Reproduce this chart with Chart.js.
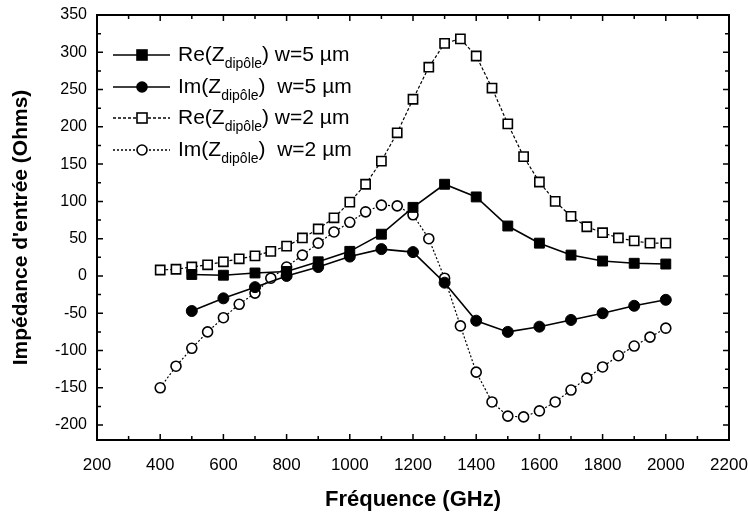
<!DOCTYPE html>
<html>
<head>
<meta charset="utf-8">
<script src="https://cdn.jsdelivr.net/npm/chart.js@4.4.1/dist/chart.umd.min.js"></script>
<style>
  html, body { margin: 0; padding: 0; background: #fff; }
  #wrap { position: relative; width: 748px; height: 517px; }
  #c { position: absolute; left: 0; top: 0; }
  .lg { position: absolute; left: 110px; height: 30px; font-family: "Liberation Sans", Arial, sans-serif; font-size: 21px; color: #000; white-space: nowrap; }
  .lg svg { position: absolute; left: 0; top: 0; }
  .lg .t { position: absolute; left: 68px; top: 2px; }
  .lg sub { font-size: 14px; vertical-align: -7px; line-height: 0; }
</style>
</head>
<body>
<div id="wrap">
  <canvas id="c" width="748" height="517"></canvas>
</div>
<script>
// ---- data ----
const freqW2 = [400,450,500,550,600,650,700,750,800,850,900,950,1000,1050,1100,1150,1200,1250,1300,1350,1400,1450,1500,1550,1600,1650,1700,1750,1800,1850,1900,1950,2000];
const freqW5 = [500,600,700,800,900,1000,1100,1200,1300,1400,1500,1600,1700,1800,1900,2000];
const reW5 = [2, 1, 4, 6, 19, 33, 56, 92, 123, 106, 67, 44, 28, 20, 17, 16];
const imW5 = [-47, -30, -15, 0, 12, 26, 36, 32, -9, -60, -75, -68, -59, -50, -40, -32];
const reW2 = [8, 9, 12, 15, 19, 23, 27, 33, 40, 51, 63, 78, 99, 123, 154, 192, 237, 280, 312, 318, 295, 252, 204, 160, 126, 100, 80, 66, 58, 51, 47, 44, 44];
const imW2 = [-150, -121, -97, -75, -56, -38, -23, -3, 12, 28, 44, 59, 72, 86, 95, 94, 82, 50, -3, -67, -129, -169, -188, -189, -181, -169, -153, -137, -122, -107, -94, -82, -70];
const xTickLabels = [200,400,600,800,1000,1200,1400,1600,1800,2000,2200];
const yTickLabels = [-200,-150,-100,-50,0,50,100,150,200,250,300,350];
const seriesNames = ["Re(Z_dipôle) w=5 µm", "Im(Z_dipôle)  w=5 µm", "Re(Z_dipôle) w=2 µm", "Im(Z_dipôle)  w=2 µm"];

function pts(xs, ys) { return xs.map((x, i) => ({x: x, y: ys[i]})); }

const FONT = '"Liberation Sans", Arial, sans-serif';

const frameTicks = {
  id: 'frameTicks',
  afterDraw(chart) {
    const ctx = chart.ctx, a = chart.chartArea;
    const xs = chart.scales.x, ys = chart.scales.y;
    ctx.save();
    ctx.strokeStyle = '#000';
    ctx.lineWidth = 1.5;
    for (let v = xs.min; v <= xs.max; v += 100) {
      const px = xs.getPixelForValue(v);
      const major = (v % 200) === 0;
      const L = major ? 6 : 4;
      ctx.beginPath();
      ctx.moveTo(px, a.bottom); ctx.lineTo(px, a.bottom - L);
      ctx.moveTo(px, a.top); ctx.lineTo(px, a.top + L);
      ctx.stroke();
    }
    for (let v = -200; v <= ys.max; v += 25) {
      const py = ys.getPixelForValue(v);
      const major = (v % 50) === 0;
      const L = major ? 6 : 4;
      ctx.beginPath();
      ctx.moveTo(a.left, py); ctx.lineTo(a.left + L, py);
      ctx.moveTo(a.right, py); ctx.lineTo(a.right - L, py);
      ctx.stroke();
    }
    ctx.lineWidth = 2;
    ctx.strokeRect(a.left, a.top, a.right - a.left, a.bottom - a.top);
    ctx.restore();
  }
};

const chart = new Chart(document.getElementById('c'), {
  type: 'line',
  data: {
    datasets: [
      { label: seriesNames[0], data: pts(freqW5, reW5), borderColor: '#000', backgroundColor: '#000',
        borderWidth: 1.6, pointStyle: 'rect', pointRadius: 7, pointBorderWidth: 1, pointBackgroundColor: '#000', pointBorderColor: '#000' },
      { label: seriesNames[1], data: pts(freqW5, imW5), borderColor: '#000', backgroundColor: '#000',
        borderWidth: 1.6, pointStyle: 'circle', pointRadius: 5.5, pointBorderWidth: 1, pointBackgroundColor: '#000', pointBorderColor: '#000' },
      { label: seriesNames[2], data: pts(freqW2, reW2), borderColor: '#000', backgroundColor: '#fff',
        borderWidth: 1.2, borderDash: [3, 2], pointStyle: 'rect', pointRadius: 6.5, pointBorderWidth: 1.6, pointBackgroundColor: '#fff', pointBorderColor: '#000' },
      { label: seriesNames[3], data: pts(freqW2, imW2), borderColor: '#000', backgroundColor: '#fff',
        borderWidth: 1.2, borderDash: [2, 2], pointStyle: 'circle', pointRadius: 5, pointBorderWidth: 1.6, pointBackgroundColor: '#fff', pointBorderColor: '#000' }
    ]
  },
  options: {
    responsive: false,
    animation: false,
    layout: { padding: { top: 15, right: 19, left: 0, bottom: 0 } },
    plugins: { legend: { display: false }, tooltip: { enabled: false } },
    scales: {
      x: {
        type: 'linear', min: 200, max: 2200,
        afterBuildTicks(s) { s.ticks = xTickLabels.map(v => ({ value: v })); },
        afterFit(s) { s.height = 77; s.paddingRight = 0; s.paddingLeft = 0; },
        grid: { display: false, drawTicks: false },
        border: { display: false },
        ticks: { color: '#000', padding: 15, maxRotation: 0, autoSkip: false, font: { family: FONT, size: 17 }, callback: v => String(v) },
        title: { display: true, text: 'Fréquence (GHz)', color: '#000', padding: { top: 0, bottom: 4 }, font: { family: FONT, size: 22, weight: 'bold' } }
      },
      y: {
        type: 'linear', min: -220, max: 350,
        afterBuildTicks(s) { s.ticks = yTickLabels.map(v => ({ value: v })); },
        afterFit(s) { s.width = 97; s.paddingTop = 0; s.paddingBottom = 0; },
        grid: { display: false, drawTicks: false },
        border: { display: false },
        ticks: { color: '#000', padding: 10, autoSkip: false, font: { family: FONT, size: 16 }, callback: v => String(v) },
        title: { display: true, text: "Impédance d'entrée (Ohms)", color: '#000', padding: { top: 9, bottom: 0 }, font: { family: FONT, size: 21, weight: 'bold' } }
      }
    }
  },
  plugins: [frameTicks]
});

// ---- HTML legend (real text with subscripts) ----
const legendRows = [
  { y: 40, name: 'Re', w: '5', filled: true, shape: 'rect', dash: '' },
  { y: 72, name: 'Im', w: '5', filled: true, shape: 'circle', dash: '' },
  { y: 103, name: 'Re', w: '2', filled: false, shape: 'rect', dash: '3,2' },
  { y: 135, name: 'Im', w: '2', filled: false, shape: 'circle', dash: '2,2' }
];
const wrap = document.getElementById('wrap');
legendRows.forEach(r => {
  const d = document.createElement('div');
  d.className = 'lg';
  d.style.top = r.y + 'px';
  const fill = r.filled ? '#000' : '#fff';
  const mk = r.shape === 'rect'
    ? `<rect x="27" y="10" width="10" height="10" fill="${fill}" stroke="#000" stroke-width="1.6"/>`
    : `<circle cx="32" cy="15" r="5" fill="${fill}" stroke="#000" stroke-width="1.6"/>`;
  const gap = r.name === 'Im' ? '&nbsp;&nbsp;' : '&nbsp;';
  d.innerHTML = `<svg width="64" height="30"><line x1="3" y1="15" x2="60" y2="15" stroke="#000" stroke-width="1.4" ${r.dash ? `stroke-dasharray="${r.dash}"` : ''}/>${mk}</svg>` +
    `<span class="t">${r.name}(Z<sub>dipôle</sub>)${gap}w=${r.w} µm</span>`;
  wrap.appendChild(d);
});
</script>
</body>
</html>
